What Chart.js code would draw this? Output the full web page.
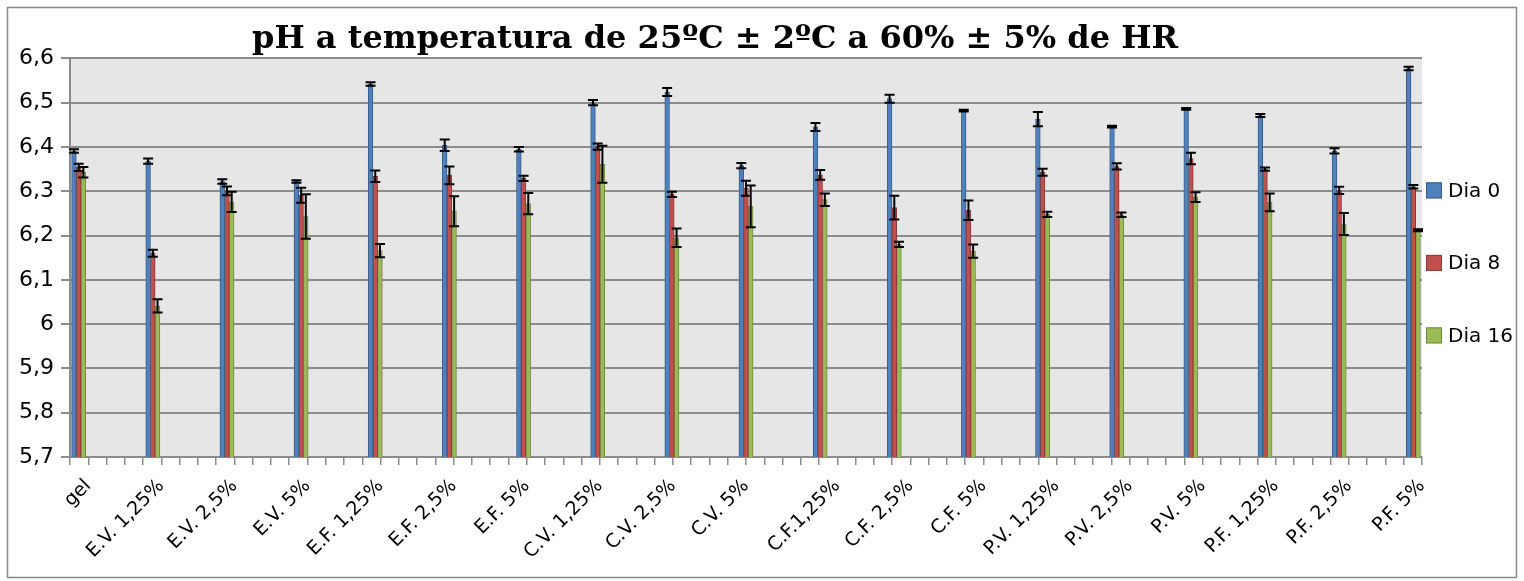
<!DOCTYPE html>
<html>
<head>
<meta charset="utf-8">
<title>pH a temperatura de 25ºC</title>
<script src="https://cdn.jsdelivr.net/npm/chart.js@4.4.0/dist/chart.umd.min.js"></script>
<style>
    html, body { margin: 0; padding: 0; background: #fff; }
    canvas { display: block; }
</style>
</head>
<body>
<canvas id="phChart" width="1524" height="581"></canvas>
<script>
// Data
const categories = ['gel', 'E.V. 1,25%', 'E.V. 2,5%', 'E.V. 5%', 'E.F. 1,25%', 'E.F. 2,5%', 'E.F. 5%',
    'C.V. 1,25%', 'C.V. 2,5%', 'C.V. 5%', 'C.F.1,25%', 'C.F. 2,5%', 'C.F. 5%',
    'P.V. 1,25%', 'P.V. 2,5%', 'P.V. 5%', 'P.F. 1,25%', 'P.F. 2,5%', 'P.F. 5%'];
const seriesNames = ['Dia 0', 'Dia 8', 'Dia 16'];

const dia0 = [6.391, 6.368, 6.322, 6.322, 6.542, 6.404, 6.395, 6.500, 6.524, 6.358, 6.445, 6.509, 6.482, 6.463, 6.446, 6.486, 6.471, 6.391, 6.577];
const dia0Err = [0.004, 0.006, 0.005, 0.003, 0.004, 0.013, 0.005, 0.006, 0.009, 0.006, 0.009, 0.009, 0.002, 0.016, 0.002, 0.002, 0.0035, 0.006, 0.004];
const dia8 = [6.354, 6.160, 6.301, 6.291, 6.334, 6.336, 6.329, 6.401, 6.293, 6.307, 6.337, 6.263, 6.257, 6.343, 6.356, 6.374, 6.350, 6.302, 6.310];
const dia8Err = [0.008, 0.008, 0.010, 0.017, 0.013, 0.020, 0.006, 0.007, 0.006, 0.017, 0.011, 0.027, 0.022, 0.008, 0.007, 0.013, 0.0035, 0.008, 0.004];
const dia16 = [6.343, 6.041, 6.276, 6.243, 6.166, 6.255, 6.272, 6.361, 6.195, 6.266, 6.281, 6.180, 6.165, 6.248, 6.247, 6.287, 6.275, 6.226, 6.212];
const dia16Err = [0.012, 0.015, 0.023, 0.050, 0.015, 0.034, 0.024, 0.042, 0.021, 0.047, 0.014, 0.006, 0.015, 0.006, 0.005, 0.011, 0.020, 0.025, 0.002];

const yMin = 5.7;
const yMax = 6.6;
const yStep = 0.1;

// Styling
const colors = {
    fill: ['#4F81BD', '#C0504D', '#9BBB59'],
    border: ['#385D8A', '#8C3836', '#71893F'],
    plot: '#E6E6E6',
    grid: '#8C8C8C',
    frame: '#888888'
};
const labelFont = 'DejaVu Sans';
const xPad = 0.117;          // space between axis edge and first/last group (category units)
const xTickDivisions = 74;   // small tick marks along the category axis

const allValues = [dia0, dia8, dia16];
const allErrors = [dia0Err, dia8Err, dia16Err];

const toPoints = values => values.map((v, i) => ({ x: i, y: v }));

// Plot background + outer frame
const backgroundPlugin = {
    id: 'background',
    beforeDraw(chart) {
        const { ctx, chartArea } = chart;
        ctx.save();
        ctx.fillStyle = '#fff';
        ctx.fillRect(0, 0, chart.width, chart.height);
        ctx.strokeStyle = colors.frame;
        ctx.lineWidth = 1.5;
        ctx.strokeRect(7.5, 7.5, chart.width - 15, chart.height - 11);
        ctx.fillStyle = colors.plot;
        ctx.fillRect(chartArea.left, chartArea.top, chartArea.right - chartArea.left, chartArea.bottom - chartArea.top);
        ctx.restore();
    }
};

// Error bars
const errorBarPlugin = {
    id: 'errorBars',
    afterDatasetsDraw(chart) {
        const { ctx } = chart;
        const yScale = chart.scales.y;
        ctx.save();
        ctx.strokeStyle = '#000';
        ctx.lineWidth = 2;
        chart.data.datasets.forEach((ds, d) => {
            const meta = chart.getDatasetMeta(d);
            meta.data.forEach((bar, i) => {
                const v = allValues[d][i];
                const e = allErrors[d][i];
                const top = yScale.getPixelForValue(v + e);
                const bottom = yScale.getPixelForValue(v - e);
                const x = bar.x;
                ctx.beginPath();
                ctx.moveTo(x, top);
                ctx.lineTo(x, bottom);
                ctx.moveTo(x - 5, top);
                ctx.lineTo(x + 5, top);
                ctx.moveTo(x - 5, bottom);
                ctx.lineTo(x + 5, bottom);
                ctx.stroke();
            });
        });
        ctx.restore();
    }
};

// Legend on the right
const sideLegendPlugin = {
    id: 'sideLegend',
    afterDraw(chart) {
        const { ctx, chartArea } = chart;
        ctx.save();
        ctx.font = '20px "' + labelFont + '"';
        ctx.textBaseline = 'middle';
        chart.data.datasets.forEach((ds, d) => {
            const cy = chartArea.top + 132 + d * 72.5;
            const bx = chartArea.right + 4;
            ctx.fillStyle = ds.backgroundColor;
            ctx.fillRect(bx, cy - 8, 16, 16);
            ctx.strokeStyle = ds.borderColor;
            ctx.lineWidth = 1;
            ctx.strokeRect(bx + 0.5, cy - 7.5, 15, 15);
            ctx.fillStyle = '#000';
            ctx.fillText(ds.label, bx + 22, cy + 1);
        });
        ctx.restore();
    }
};

const ctx = document.getElementById('phChart');
new Chart(ctx, {
    type: 'bar',
    data: {
        datasets: allValues.map((values, d) => ({
            label: seriesNames[d],
            data: toPoints(values),
            backgroundColor: colors.fill[d],
            borderColor: colors.border[d],
            borderWidth: 1,
            barThickness: 4.7
        }))
    },
    options: {
        responsive: false,
        animation: false,
        devicePixelRatio: 1,
        layout: { padding: { left: 8, right: 102, top: 8, bottom: 6 } },
        plugins: {
            legend: { display: false },
            tooltip: { enabled: false },
            title: {
                display: true,
                text: 'pH a temperatura de 25ºC ± 2ºC a 60% ± 5% de HR',
                color: '#000',
                font: { family: 'DejaVu Serif', size: 32, weight: 'bold', lineHeight: 1.2 },
                padding: { top: 12, bottom: 0 }
            }
        },
        scales: {
            x: {
                type: 'linear',
                position: 'bottom',
                min: -xPad,
                max: categories.length - 1 + xPad,
                offset: false,
                afterBuildTicks: axis => {
                    const step = (axis.max - axis.min) / xTickDivisions;
                    axis.ticks = Array.from({ length: xTickDivisions + 1 }, (_, k) => ({ value: axis.min + k * step }));
                },
                afterFit: axis => { axis.height = 118; },
                ticks: {
                    autoSkip: false,
                    minRotation: 45,
                    maxRotation: 45,
                    padding: 10,
                    color: '#000',
                    font: { family: labelFont, size: 19 },
                    callback: function(value, index) {
                        // label sits on the first small tick at or right of each group
                        const step = (this.max - this.min) / xTickDivisions;
                        const i = categories.findIndex((_, c) => Math.ceil((c - this.min) / step - 1e-6) === index);
                        return i >= 0 ? categories[i] : '';
                    }
                },
                grid: { display: true, drawOnChartArea: false, offset: false, color: colors.grid, lineWidth: 1.5, tickLength: 8 },
                border: { display: true, color: colors.grid, width: 2 }
            },
            y: {
                min: yMin,
                max: yMax,
                afterFit: axis => { axis.width = 62; },
                ticks: {
                    stepSize: yStep,
                    padding: 7,
                    color: '#000',
                    font: { family: labelFont, size: 22 },
                    callback: v => String(Math.round(v * 10) / 10).replace('.', ',')
                },
                grid: { color: colors.grid, lineWidth: 2, tickLength: 9 },
                border: { display: true, color: colors.grid, width: 2 }
            }
        }
    },
    plugins: [backgroundPlugin, errorBarPlugin, sideLegendPlugin]
});
</script>
</body>
</html>
